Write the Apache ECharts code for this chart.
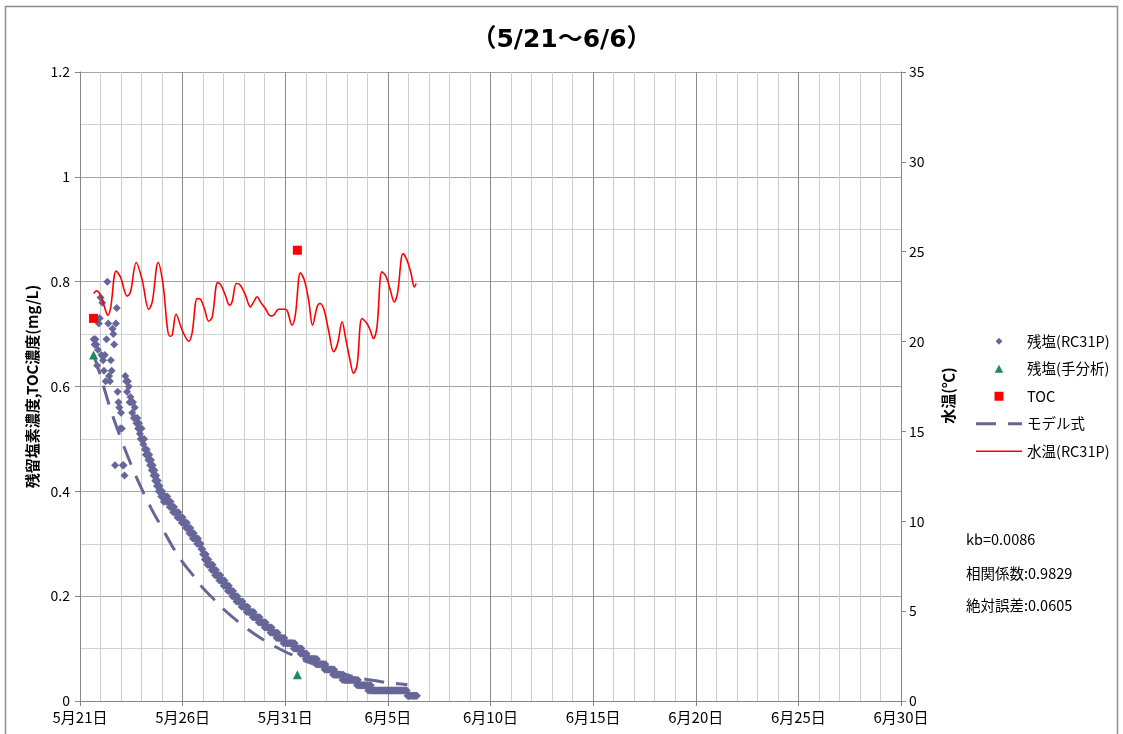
<!DOCTYPE html>
<html>
<head>
<meta charset="utf-8">
<script src="https://cdn.jsdelivr.net/npm/echarts@6/dist/echarts.min.js"></script>
<style>
  html, body { margin: 0; padding: 0; background: #fff; }
  #chart { width: 1123px; height: 734px; }
</style>
</head>
<body>
<div id="chart"></div>
<script>
// Time is counted in days from 5/21 00:00.
const xTickLabels = ['5月21日', '5月26日', '5月31日', '6月5日', '6月10日', '6月15日', '6月20日', '6月25日', '6月30日'];

// 残塩(RC31P): hourly readings starting 5/21 16:00 (mg/L)
const rcStartDay = 16 / 24;
const rcValues = [
  0.69,0.68,0.69,0.68,0.64,0.67,0.72,0.73,0.77,0.66,0.76,0.65,0.63,0.66,0.61,0.69,0.80,0.72,0.62,0.61,0.65,0.63,0.71,0.70,
  0.68,0.45,0.72,0.75,0.59,0.57,0.56,0.52,0.55,0.52,0.45,0.45,0.43,0.62,0.61,0.59,0.61,0.60,0.57,0.58,0.57,0.55,0.57,0.54,
  0.56,0.54,0.53,0.54,0.52,0.53,0.51,0.50,0.52,0.50,0.49,0.50,0.48,0.47,0.48,0.47,0.46,0.47,0.45,0.46,0.44,0.45,0.43,0.44,
  0.42,0.43,0.41,0.42,0.40,0.41,0.40,0.39,0.40,0.39,0.38,0.39,
  0.39,0.38,0.39,0.38,0.38,0.37,0.38,0.37,0.37,0.36,0.37,0.36,0.36,0.36,0.35,0.36,0.35,0.35,0.35,0.34,0.35,0.34,0.34,0.34,
  0.33,0.34,0.33,0.33,0.32,0.33,0.32,0.32,0.31,0.32,0.31,0.31,0.31,0.30,0.31,0.30,0.30,0.30,0.29,0.29,0.28,0.28,0.27,0.28,
  0.27,0.26,0.27,0.26,0.26,0.26,0.25,0.26,0.25,0.25,0.24,0.25,0.24,0.24,0.24,0.23,0.24,0.23,0.23,0.23,0.22,0.23,0.22,0.22,
  0.22,0.21,0.22,0.21,0.21,0.21,0.20,0.21,0.20,0.20,0.20,0.19,0.20,0.19,0.19,0.19,0.19,0.18,0.19,0.18,0.18,0.18,0.18,0.17,
  0.18,0.17,0.17,0.17,0.17,0.17,0.16,0.17,0.16,0.16,0.16,0.16,0.16,0.15,0.16,0.15,0.15,0.15,0.15,0.15,0.14,0.15,0.14,0.14,
  0.14,0.14,0.14,0.13,0.14,0.13,0.13,0.13,0.13,0.13,0.12,0.13,0.12,0.12,0.12,0.12,0.12,0.12,0.11,0.12,0.11,0.11,0.11,0.11,
  0.11,0.11,0.11,0.11,0.11,0.11,0.10,0.11,0.10,0.10,0.10,0.10,0.10,0.10,0.09,0.10,0.09,0.09,0.09,0.09,0.08,0.09,0.08,0.08,
  0.08,0.08,0.08,0.08,0.08,0.08,0.08,0.08,0.07,0.08,0.07,0.07,0.07,0.07,0.07,0.07,0.07,0.07,0.06,0.07,0.06,0.06,0.06,0.06,
  0.06,0.06,0.06,0.06,0.05,0.06,0.05,0.05,0.05,0.05,0.05,0.05,0.05,0.05,0.05,0.04,0.05,0.04,0.04,0.04,0.04,0.04,0.04,0.04,
  0.04,0.04,0.04,0.04,0.04,0.04,0.04,0.04,0.03,0.04,0.03,0.03,0.03,0.03,0.03,0.03,0.03,0.03,0.03,0.03,0.03,0.02,0.03,0.02,
  0.03,0.02,0.02,0.02,0.02,0.02,0.02,0.02,0.02,0.02,0.02,0.02,0.02,0.02,0.02,0.02,0.02,0.02,0.02,0.02,0.02,0.02,0.02,0.02,
  0.02,0.02,0.02,0.02,0.02,0.02,0.02,0.02,0.02,0.02,0.02,0.02,0.02,0.02,0.02,0.02,0.02,0.02,0.02,0.01,0.01,0.01,0.01,0.01,
  0.01,0.01,0.01,0.01,0.01,0.01,0.01
];

// 残塩(手分析): grab samples
const manualDays = [0.66, 10.59];
const manualValues = [0.66, 0.05];

// TOC samples
const tocDays = [0.66, 10.59];
const tocValues = [0.73, 0.86];

// モデル式: decay model curve
const modelDays = [0.67, 1.0, 1.5, 2.0, 2.5, 3.0, 3.5, 4.0, 4.5, 5.0, 5.5, 6.0, 6.5, 7.0, 7.5, 8.0,
  8.5, 9.0, 9.5, 10.0, 10.5, 11.0, 11.5, 12.0, 12.5, 13.0, 13.5, 14.0, 14.5, 15.0, 15.5, 15.95];
const modelValues = [0.66, 0.62, 0.555, 0.50, 0.45, 0.405, 0.365, 0.33, 0.295, 0.265, 0.24, 0.215, 0.195, 0.175, 0.158, 0.142,
  0.128, 0.115, 0.104, 0.094, 0.085, 0.076, 0.069, 0.062, 0.056, 0.050, 0.045, 0.041, 0.038, 0.035, 0.033, 0.031];

// 水温(RC31P) in ℃
const tempDays = [0.67, 0.80, 1.00, 1.24, 1.35, 1.49, 1.76, 1.97, 2.30, 2.46, 2.74, 3.03, 3.35, 3.52, 3.81, 4.03,
  4.37, 4.49, 4.68, 4.98, 5.30, 5.46, 5.71, 5.87, 6.06, 6.27, 6.44, 6.71, 6.87, 7.08, 7.29, 7.41, 7.62, 7.81,
  8.06, 8.30, 8.46, 8.63, 8.79, 9.03, 9.28, 9.44, 9.68, 10.01, 10.12, 10.33, 10.49, 10.74, 10.93, 11.14, 11.33,
  11.55, 11.68, 11.87, 12.11, 12.36, 12.55, 12.77, 12.93, 13.14, 13.33, 13.50, 13.74, 13.98, 14.14, 14.30, 14.47,
  14.71, 14.92, 15.12, 15.31, 15.47, 15.74, 15.93, 16.13, 16.29, 16.38];
const tempValues = [22.67, 22.82, 22.58, 21.75, 21.47, 21.86, 23.92, 23.60, 22.53, 22.76, 24.40, 23.42, 21.79, 22.21, 24.40, 23.32,
  20.30, 20.36, 21.52, 20.63, 20.02, 20.47, 22.40, 22.36, 21.84, 21.13, 21.37, 23.29, 23.14, 22.58, 22.02, 22.21, 23.23, 23.14,
  22.58, 21.93, 22.21, 22.49, 22.21, 21.84, 21.43, 21.47, 21.80, 21.80, 21.65, 20.91, 21.47, 23.82, 23.42, 22.30, 20.91,
  21.93, 22.12, 21.84, 20.63, 19.43, 19.89, 21.10, 20.26, 19.06, 18.23, 18.69, 21.28, 21.01, 20.63, 20.17, 20.82,
  23.88, 23.60, 22.86, 22.21, 22.68, 24.90, 24.53, 23.79, 23.04, 23.23];

const statLines = ['kb=0.0086', '相関係数:0.9829', '絶対誤差:0.0605'];

const zip = (xs, ys) => xs.map((x, i) => [x, ys[i]]);
const rcData = rcValues.map((v, i) => [rcStartDay + i / 24, v]);

const FONT = '"Noto Sans CJK JP", "Noto Sans", sans-serif';
const TITLE_FONT = '"DejaVu Sans", "Noto Sans CJK JP", sans-serif';
const AXIS_GRAY = '#868686';
const SLATE = '#666699';

const chart = echarts.init(document.getElementById('chart'), null, { renderer: 'canvas' });

chart.setOption({
  animation: false,
  backgroundColor: '#fff',
  textStyle: { fontFamily: FONT, color: '#000' },
  title: {
    text: '（5/21～6/6）',
    left: 'center',
    top: 23,
    textStyle: { fontSize: 25, fontWeight: 'bold', fontFamily: TITLE_FONT, color: '#000' }
  },
  grid: { left: 80, right: 222, top: 72, bottom: 33, containLabel: false },
  legend: {
    orient: 'vertical',
    left: 976,
    top: 334,
    padding: 0,
    itemWidth: 46,
    itemHeight: 9,
    itemGap: 13,
    symbolKeepAspect: true,
    textStyle: { fontSize: 14.5, fontFamily: FONT, color: '#000', lineHeight: 14 },
    data: [
      { name: '残塩(RC31P)', icon: 'path://M0,0M10,10M5,1.2L8.8,5L5,8.8L1.2,5Z' },
      { name: '残塩(手分析)', icon: 'path://M0,0M10,10M5,0.5L9.7,9.5L0.3,9.5Z' },
      { name: 'TOC', icon: 'path://M0,0H10V10H0Z' },
      { name: 'モデル式', icon: 'path://M0,0H20V3H0Z M32,0H46V3H32Z' },
      { name: '水温(RC31P)', icon: 'path://M0,0H46V1.5H0Z' }
    ]
  },
  xAxis: {
    type: 'value',
    min: 0,
    max: 40,
    interval: 5,
    axisLine: { show: true, onZero: false, lineStyle: { color: AXIS_GRAY } },
    axisTick: { show: true, length: 5, lineStyle: { color: AXIS_GRAY } },
    axisLabel: {
      margin: 9,
      fontSize: 15,
      color: '#000',
      fontFamily: FONT,
      formatter: v => xTickLabels[Math.round(v / 5)] || ''
    },
    splitLine: { show: true, lineStyle: { color: '#8c8c8c', width: 1 } },
    minorTick: { show: false, splitNumber: 5 },
    minorSplitLine: { show: true, lineStyle: { color: '#cdcdcd', width: 1 } }
  },
  yAxis: [
    {
      type: 'value',
      min: 0,
      max: 1.2,
      interval: 0.2,
      name: '残留塩素濃度,TOC濃度(mg/L)',
      nameLocation: 'middle',
      nameRotate: 90,
      nameGap: 38,
      nameTextStyle: { fontSize: 15, fontWeight: 'bold', fontFamily: FONT, color: '#000' },
      axisLine: { show: true, lineStyle: { color: AXIS_GRAY } },
      axisTick: { show: true, length: 5, lineStyle: { color: AXIS_GRAY } },
      axisLabel: { margin: 10, fontSize: 14, color: '#000', fontFamily: FONT },
      splitLine: { show: true, lineStyle: { color: '#a6a6a6', width: 1 } },
      minorTick: { show: false, splitNumber: 2 },
      minorSplitLine: { show: true, lineStyle: { color: '#d2d2d2', width: 1 } }
    },
    {
      type: 'value',
      min: 0,
      max: 35,
      interval: 5,
      position: 'right',
      name: '水温(℃)',
      nameLocation: 'middle',
      nameRotate: 90,
      nameGap: 40,
      nameTextStyle: { fontSize: 15, fontWeight: 'bold', fontFamily: FONT, color: '#000', padding: [0, 18, 0, 0] },
      axisLine: { show: true, lineStyle: { color: AXIS_GRAY } },
      axisTick: { show: true, length: 5, lineStyle: { color: AXIS_GRAY } },
      axisLabel: { margin: 8, fontSize: 14, color: '#000', fontFamily: FONT },
      splitLine: { show: false }
    }
  ],
  series: [
    {
      name: '残塩(RC31P)',
      type: 'scatter',
      yAxisIndex: 0,
      symbol: 'diamond',
      symbolSize: 8,
      itemStyle: { color: SLATE, opacity: 1 },
      data: rcData,
      z: 2
    },
    {
      name: 'モデル式',
      type: 'line',
      yAxisIndex: 0,
      symbol: 'none',
      smooth: 0.4,
      lineStyle: { color: SLATE, width: 3, type: [20, 12] },
      itemStyle: { color: SLATE },
      data: zip(modelDays, modelValues),
      z: 3
    },
    {
      name: '水温(RC31P)',
      type: 'line',
      yAxisIndex: 1,
      symbol: 'none',
      smooth: 0.35,
      lineStyle: { color: '#ff0000', width: 1.6 },
      itemStyle: { color: '#ff0000' },
      data: zip(tempDays, tempValues),
      z: 4
    },
    {
      name: '残塩(手分析)',
      type: 'scatter',
      yAxisIndex: 0,
      symbol: 'triangle',
      symbolSize: 9,
      itemStyle: { color: '#1f8a5f', opacity: 1 },
      data: zip(manualDays, manualValues),
      z: 5
    },
    {
      name: 'TOC',
      type: 'scatter',
      yAxisIndex: 0,
      symbol: 'rect',
      symbolSize: 9,
      itemStyle: { color: '#ff0000', opacity: 1 },
      data: zip(tocDays, tocValues),
      z: 5
    }
  ],
  graphic: [
    {
      type: 'rect',
      shape: { x: 5.5, y: 6.5, width: 1112, height: 740 },
      style: { fill: 'none', stroke: '#8c8c8c', lineWidth: 1.5 },
      silent: true,
      z: -1
    },
    ...statLines.map((t, i) => ({
      type: 'text',
      left: 966,
      top: [532, 566, 598][i],
      style: { text: t, fontSize: 14.5, fontFamily: FONT, fill: '#000' },
      silent: true
    }))
  ]
});
</script>
</body>
</html>
